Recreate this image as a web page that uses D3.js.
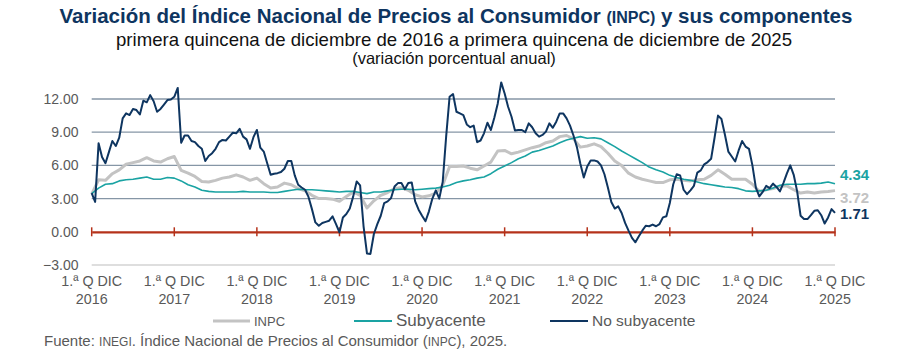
<!DOCTYPE html>
<html><head><meta charset="utf-8">
<script src="https://cdn.jsdelivr.net/npm/d3@7"></script>
<style>
html,body{margin:0;padding:0;background:#fff;}
svg{display:block;}
</style></head>
<body>
<svg id="chart" width="900" height="352"></svg>
<script>
// ---- data ----
const years = ["2016","2017","2018","2019","2020","2021","2022","2023","2024","2025"];
const tickLine1 = "1.ª Q DIC";
const yTicks = [-3, 0, 3, 6, 9, 12];
// No subyacente: quincenal, 1.ª Q dic 2016 ... 1.ª Q dic 2025 (217 values)
const noSubyacente = [
3.5,2.7,8.0,6.75,6.2,7.2,8.2,7.75,8.5,10.25,10.7,10.55,11.1,11.0,10.6,11.85,11.7,12.35,11.8,10.85,
11.1,11.5,11.9,11.95,12.2,13.0,8.05,8.7,8.7,8.2,8.1,7.75,7.5,6.4,6.85,7.1,7.5,8.1,8.3,8.25,
8.6,8.95,8.9,9.3,8.6,8.35,7.5,8.55,9.2,7.6,7.25,6.2,5.15,5.25,5.3,5.4,5.7,6.4,6.4,5.1,
4.25,4.0,3.8,3.15,2.05,0.85,0.55,0.8,0.9,1.0,1.4,0.7,-0.05,1.3,1.6,2.1,3.2,4.55,4.2,0.5,
-1.97,-2.0,-0.2,0.7,1.45,2.6,2.75,3.05,4.1,4.4,4.4,3.85,4.4,4.45,2.75,2.0,1.45,0.95,1.85,3.0,
3.75,3.0,4.5,8.6,12.2,12.45,10.85,10.7,10.55,9.7,9.45,9.6,8.1,8.25,8.9,9.85,9.2,10.3,11.6,13.5,
12.5,11.3,10.4,9.15,9.2,9.2,9.0,9.8,9.45,8.9,8.6,8.75,9.05,9.8,9.4,9.95,10.7,10.7,10.25,9.6,
8.7,7.65,6.15,4.9,5.9,6.45,6.45,6.35,6.0,5.2,4.0,2.7,2.1,2.3,1.7,0.8,0.1,-0.55,-0.95,-0.4,
0.1,0.55,0.5,0.65,0.5,0.7,1.3,1.4,2.6,4.3,5.2,5.1,3.8,3.4,3.75,4.15,5.35,5.55,6.1,6.3,
6.6,8.5,10.5,10.2,8.8,7.25,6.8,6.35,7.35,8.2,7.7,7.5,6.0,4.0,3.2,3.6,4.15,3.95,4.35,4.05,
3.65,4.4,5.25,6.0,5.15,3.65,1.45,1.15,1.15,1.5,1.9,1.95,1.5,0.75,1.3,2.05,1.71];
// INPC: mensual (1.ª Q), dic 2016 ... dic 2025 (109 values)
const inpc = [
3.4,4.7,4.65,5.25,5.6,6.1,6.25,6.4,6.7,6.4,6.3,6.6,6.8,5.55,5.3,5.0,4.55,4.5,4.65,4.85,
4.95,5.15,4.95,4.65,4.85,4.35,3.95,4.05,4.4,4.25,3.9,3.7,3.3,3.0,3.0,2.95,2.75,3.2,3.6,3.3,
2.15,2.8,3.3,3.55,3.9,4.0,3.75,3.35,3.15,3.25,3.5,4.2,5.9,5.9,5.95,5.75,5.6,5.95,6.3,7.3,
7.35,7.05,7.2,7.4,7.6,7.75,8.05,8.2,8.6,8.7,8.4,7.65,7.75,7.95,7.7,7.1,6.4,6.0,5.3,4.95,
4.75,4.6,4.45,4.45,4.7,4.75,4.65,4.6,4.7,4.75,5.1,5.6,5.2,4.75,4.75,4.75,4.3,3.65,3.8,3.9,
4.1,4.15,3.8,3.5,3.6,3.5,3.6,3.65,3.72];
// Subyacente: mensual (1.ª Q), dic 2016 ... dic 2025 (109 values)
const subyacente = [
3.45,3.95,4.3,4.35,4.6,4.7,4.75,4.85,4.95,4.75,4.75,4.9,4.85,4.6,4.25,4.05,3.75,3.65,3.6,3.6,
3.6,3.6,3.65,3.6,3.6,3.6,3.55,3.55,3.65,3.75,3.85,3.8,3.8,3.75,3.7,3.65,3.6,3.65,3.65,3.55,
3.45,3.6,3.6,3.7,3.8,3.85,3.85,3.8,3.85,3.9,3.95,4.05,4.2,4.45,4.6,4.7,4.85,4.95,5.25,5.65,
5.95,6.25,6.6,6.85,7.2,7.35,7.55,7.75,8.05,8.3,8.45,8.6,8.45,8.5,8.4,8.05,7.7,7.3,6.95,6.6,
6.25,5.85,5.6,5.4,5.1,4.9,4.75,4.65,4.5,4.35,4.25,4.15,4.05,4.0,3.9,3.7,3.65,3.7,3.75,3.95,
4.2,4.3,4.3,4.3,4.35,4.35,4.4,4.5,4.34];
const seriesNames = ["INPC", "Subyacente", "No subyacente"];

// ---- drawing ----
const svg = d3.select("#chart");
const NAVY = "#0e3560", TEAL = "#1aa3a3", GRAY = "#c3c3c3", RED = "#b5321a", TXT = "#595959";
const FA = "'Liberation Sans',Arial,sans-serif";

const x = d3.scaleLinear().domain([0, 216]).range([91.7, 835]);
const y = d3.scaleLinear().domain([-3, 12]).range([265, 99]);

// title
const t = svg.append("text").attr("x", 456).attr("y", 23).attr("text-anchor", "middle")
  .attr("font-family", FA).attr("font-weight", "bold").attr("font-size", 20.5).attr("fill", NAVY);
t.append("tspan").text("Variación del Índice Nacional de Precios al Consumidor ");
t.append("tspan").attr("font-size", 16).text("(INPC)");
t.append("tspan").text(" y sus componentes");
svg.append("text").attr("x", 454).attr("y", 46).attr("text-anchor", "middle")
  .attr("font-family", FA).attr("font-size", 18.6).attr("fill", "#111")
  .text("primera quincena de diciembre de 2016 a primera quincena de diciembre de 2025");
svg.append("text").attr("x", 454).attr("y", 64).attr("text-anchor", "middle")
  .attr("font-family", FA).attr("font-size", 16.5).attr("fill", "#111")
  .text("(variación porcentual anual)");

// gridlines
const gy = svg.append("g");
gy.selectAll("line").data(yTicks.filter(d => d !== 0)).join("line")
  .attr("x1", x(0)).attr("x2", x(216)).attr("y1", d => y(d)).attr("y2", d => y(d))
  .attr("stroke", d => d < 0 ? "#d3d3d3" : "#8696a6").attr("stroke-width", 1.3);

// y axis labels
const yAxis = d3.axisLeft(y).tickValues(yTicks).tickFormat(d3.format(".2f")).tickSize(0).tickPadding(0);
const gya = svg.append("g").attr("transform", "translate(78.5,0)").call(yAxis);
gya.select(".domain").remove();
gya.selectAll("text").attr("font-family", FA).attr("font-size", 14).attr("fill", TXT);

// zero line with year ticks
const tickIdx = years.map((_, i) => i * 24);
const xAxis = d3.axisBottom(x).tickValues(tickIdx).tickSize(0).tickFormat("");
const gx = svg.append("g").attr("transform", `translate(0,${y(0)})`).call(xAxis);
gx.select(".domain").attr("stroke", RED).attr("stroke-width", 2.2);
svg.append("g").selectAll("line").data(tickIdx).join("line")
  .attr("x1", d => x(d)).attr("x2", d => x(d)).attr("y1", y(0) - 4.5).attr("y2", y(0) + 4.5)
  .attr("stroke", RED).attr("stroke-width", 1.5);

// x labels
const xl = svg.append("g").selectAll("text").data(years).join("text")
  .attr("x", (d, i) => x(i * 24)).attr("text-anchor", "middle")
  .attr("font-family", FA).attr("font-size", 14.3).attr("fill", TXT);
xl.append("tspan").attr("x", (d, i) => x(i * 24)).attr("y", 286).text(tickLine1);
xl.append("tspan").attr("x", (d, i) => x(i * 24)).attr("y", 304).text(d => d);

// lines
const lineM = d3.line().x((d, i) => x(i * 2)).y(d => y(d));
const lineQ = d3.line().x((d, i) => x(i)).y(d => y(d));
svg.append("path").datum(inpc).attr("d", lineM).attr("fill", "none")
  .attr("stroke", GRAY).attr("stroke-width", 3).attr("stroke-linejoin", "round");
svg.append("path").datum(subyacente).attr("d", lineM).attr("fill", "none")
  .attr("stroke", TEAL).attr("stroke-width", 1.6).attr("stroke-linejoin", "round");
svg.append("path").datum(noSubyacente).attr("d", lineQ).attr("fill", "none")
  .attr("stroke", NAVY).attr("stroke-width", 2).attr("stroke-linejoin", "round");

// end labels
const ends = [
  {v: subyacente[subyacente.length - 1], c: TEAL, dy: -4},
  {v: inpc[inpc.length - 1], c: GRAY, dy: 12},
  {v: noSubyacente[noSubyacente.length - 1], c: NAVY, dy: 6}
];
svg.append("g").selectAll("text").data(ends).join("text")
  .attr("x", 840).attr("y", d => y(d.v) + d.dy)
  .attr("font-family", FA).attr("font-weight", "bold").attr("font-size", 15)
  .attr("fill", d => d.c).text(d => d.v.toFixed(2));

// legend
const legend = [
  {name: seriesNames[0], c: GRAY, w: 3, x1: 213, x2: 250, fs: 13},
  {name: seriesNames[1], c: TEAL, w: 2, x1: 354, x2: 392, fs: 17},
  {name: seriesNames[2], c: NAVY, w: 2, x1: 550, x2: 588, fs: 15.5}
];
const lg = svg.append("g").selectAll("g").data(legend).join("g");
lg.append("line").attr("x1", d => d.x1).attr("x2", d => d.x2).attr("y1", 321).attr("y2", 321)
  .attr("stroke", d => d.c).attr("stroke-width", d => d.w);
lg.append("text").attr("x", d => d.x2 + 4).attr("y", 326)
  .attr("font-family", FA).attr("font-size", d => d.fs).attr("fill", TXT).text(d => d.name);

// source
const src = svg.append("text").attr("x", 44).attr("y", 346)
  .attr("font-family", FA).attr("font-size", 15).attr("fill", TXT);
src.append("tspan").text("Fuente: ");
src.append("tspan").attr("font-size", 12).text("INEGI");
src.append("tspan").text(". Índice Nacional de Precios al Consumidor (");
src.append("tspan").attr("font-size", 12).text("INPC");
src.append("tspan").text("), 2025.");
</script>
</body></html>
